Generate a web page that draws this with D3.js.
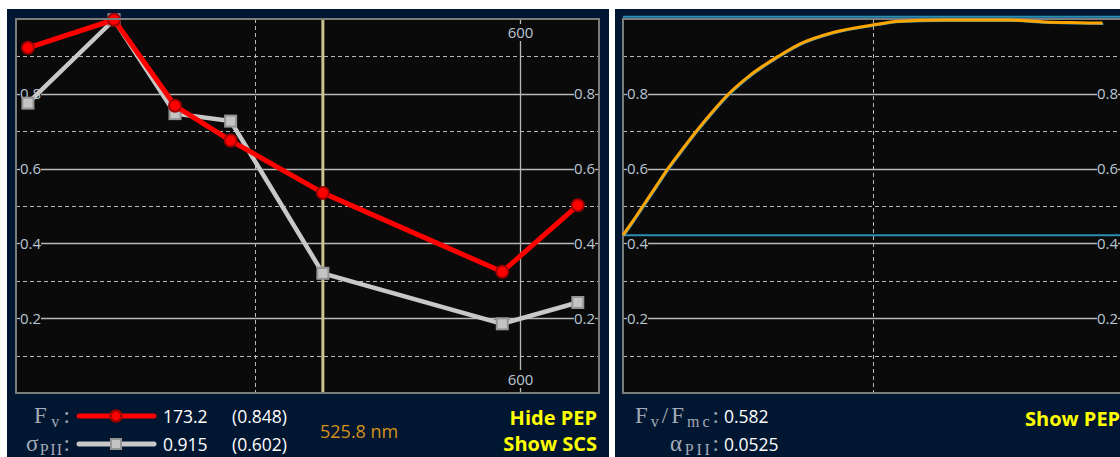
<!DOCTYPE html>
<html>
<head>
<meta charset="utf-8">
<script src="https://cdn.jsdelivr.net/npm/d3@7"></script>
<style>
  html, body { margin: 0; padding: 0; background: #ffffff; }
  svg { display: block; }
</style>
</head>
<body>
<svg id="chart" width="1120" height="457"></svg>
<script>
// Spectral panel: wavelength (nm) against normalised response
const wavelengths = [414.5, 447, 470, 491, 525.8, 593.5, 622];
const fvValues    = [0.923, 0.998, 0.768, 0.675, 0.535, 0.324, 0.502];
const sigmaValues = [0.775, 0.998, 0.747, 0.727, 0.320, 0.185, 0.242];
const cursorWavelength = 525.8;
const yTicks = [0.2, 0.4, 0.6, 0.8];
const yMinorTicks = [0.1, 0.3, 0.5, 0.7, 0.9];
const xTicks = [600];
const xMinorTicks = [500];

// Induction panel: fluorescence rise over the pulse
const timeSteps   = [0, 2, 4, 6.5, 9, 11.8, 14.7, 17.8, 21.2, 25.5, 31.1, 35.4, 42.1, 50, 55.4, 64.5, 77.5, 84.5, 91.5, 96.1];
const riseValues  = [0.422, 0.46, 0.5, 0.55, 0.6, 0.65, 0.7, 0.75, 0.8, 0.85, 0.9, 0.933, 0.964, 0.984, 0.994, 0.997, 0.997, 0.992, 0.99, 0.989];
const levelValues = [0.422, 1.006];
const timeMinorTicks = [50];

// Readouts
const fvReadout = ["173.2", "(0.848)"];
const sigmaReadout = ["0.915", "(0.602)"];
const ratioReadout = "0.582";
const alphaReadout = "0.0525";

const SANS = "'Open Sans', 'Noto Sans', sans-serif";
const SERIF = "'Liberation Serif', 'DejaVu Serif', serif";
const svg = d3.select("#chart").style("font-family", SANS);
const NAVY = "#001631";
const PLOT_BG = "#0a0a0a";
const FRAME = "#7c7c7c";
const GRID = "#b8b8b8";
const LABEL = "#b9c6d4";
const TICK_FS = 15;

function panel(x0, x1) {
  svg.append("rect").attr("x", x0).attr("y", 9).attr("width", x1 - x0).attr("height", 448).attr("fill", NAVY);
}
panel(7, 609);
panel(615, 1130);

// Shared frame + grid helper
function drawFrame(g, x, y, w, h, opts) {
  g.append("rect").attr("x", 0).attr("y", 0).attr("width", w).attr("height", h).attr("fill", PLOT_BG);

  // dashed minor horizontal grid
  g.selectAll(".hminor").data(yMinorTicks).join("line")
    .attr("x1", 0).attr("x2", w)
    .attr("y1", d => Math.round(y(d)) + 0.5).attr("y2", d => Math.round(y(d)) + 0.5)
    .attr("stroke", GRID).attr("stroke-width", 1).attr("stroke-dasharray", "4,3");

  // dashed minor vertical grid
  g.selectAll(".vminor").data(opts.xMinor).join("line")
    .attr("x1", d => Math.round(x(d)) + 0.5).attr("x2", d => Math.round(x(d)) + 0.5)
    .attr("y1", 0).attr("y2", h)
    .attr("stroke", GRID).attr("stroke-width", 1).attr("stroke-dasharray", "4,3");

  // solid major horizontal grid with inset labels on both sides
  const labW = 25;
  g.selectAll(".hmajor").data(yTicks).join("line")
    .attr("x1", labW).attr("x2", w - labW)
    .attr("y1", d => Math.round(y(d)) + 0.5).attr("y2", d => Math.round(y(d)) + 0.5)
    .attr("stroke", GRID).attr("stroke-width", 1.3);
  [[0, 4], [w - 4, w]].forEach(([a, b]) => {
    g.selectAll(null).data(yTicks).join("line")
      .attr("x1", a).attr("x2", b)
      .attr("y1", d => Math.round(y(d)) + 0.5).attr("y2", d => Math.round(y(d)) + 0.5)
      .attr("stroke", GRID).attr("stroke-width", 1.3);
  });
  g.selectAll(".ylabL").data(yTicks).join("text")
    .attr("x", 4).attr("y", d => y(d) + 5.5)
    .attr("font-size", TICK_FS).attr("fill", LABEL)
    .text(d3.format(".1f"));
  g.selectAll(".ylabR").data(yTicks).join("text")
    .attr("x", w - 4).attr("y", d => y(d) + 5.5)
    .attr("text-anchor", "end")
    .attr("font-size", TICK_FS).attr("fill", LABEL)
    .text(d3.format(".1f"));

  // solid major vertical grid with labels top and bottom
  opts.xMajor.forEach(t => {
    const px = Math.round(x(t)) + 0.5;
    g.append("line").attr("x1", px).attr("x2", px).attr("y1", 0).attr("y2", 5).attr("stroke", GRID).attr("stroke-width", 1.3);
    g.append("line").attr("x1", px).attr("x2", px).attr("y1", 22).attr("y2", h - 23).attr("stroke", GRID).attr("stroke-width", 1.3);
    g.append("line").attr("x1", px).attr("x2", px).attr("y1", h - 5).attr("y2", h).attr("stroke", GRID).attr("stroke-width", 1.3);
    g.append("text").attr("x", px).attr("y", 19).attr("text-anchor", "middle")
      .attr("font-size", TICK_FS).attr("fill", LABEL).text(t);
    g.append("text").attr("x", px).attr("y", h - 8).attr("text-anchor", "middle")
      .attr("font-size", TICK_FS).attr("fill", LABEL).text(t);
  });
}

// ---------- Left panel: spectra ----------
const L = { x: 16, y: 19, w: 583, h: 374 };
const xL = d3.scaleLinear().domain([410, 630]).range([0, L.w]);
const yL = d3.scaleLinear().domain([0, 1]).range([L.h, 0]);
const gL = svg.append("g").attr("transform", `translate(${L.x},${L.y})`);
drawFrame(gL, xL, yL, L.w, L.h, { xMinor: xMinorTicks, xMajor: xTicks });

// wavelength cursor
gL.append("line")
  .attr("x1", xL(cursorWavelength)).attr("x2", xL(cursorWavelength))
  .attr("y1", 0).attr("y2", L.h)
  .attr("stroke", "#c9c48e").attr("stroke-width", 3);

const lineL = (vals) => d3.line().x((d, i) => xL(wavelengths[i])).y(d => yL(d))(vals);

// sigma series (grey squares)
gL.append("path").attr("d", lineL(sigmaValues))
  .attr("fill", "none").attr("stroke", "#c8c8c8").attr("stroke-width", 4.5).attr("stroke-linejoin", "round");
gL.selectAll(".sq").data(sigmaValues).join("rect")
  .attr("x", (d, i) => xL(wavelengths[i]) - 5.5).attr("y", d => yL(d) - 5.5)
  .attr("width", 11).attr("height", 11)
  .attr("fill", "#c4c4c4").attr("stroke", "#959595").attr("stroke-width", 2);

// Fv series (red circles)
gL.append("path").attr("d", lineL(fvValues))
  .attr("fill", "none").attr("stroke", "#ff0000").attr("stroke-width", 5).attr("stroke-linejoin", "round");
gL.selectAll(".dot").data(fvValues).join("circle")
  .attr("cx", (d, i) => xL(wavelengths[i])).attr("cy", d => yL(d))
  .attr("r", 6).attr("fill", "#ff0000").attr("stroke", "#a00000").attr("stroke-width", 2);

// frame border
gL.append("rect").attr("x", 0).attr("y", 0).attr("width", L.w).attr("height", L.h)
  .attr("fill", "none").attr("stroke", FRAME).attr("stroke-width", 2);

// ---------- Right panel: induction ----------
const R = { x: 623, y: 19, w: 499, h: 374 };
const xR = d3.scaleLinear().domain([0, 100]).range([0, R.w]);
const yR = d3.scaleLinear().domain([0, 1]).range([R.h, 0]);
const gR = svg.append("g").attr("transform", `translate(${R.x},${R.y})`);
drawFrame(gR, xR, yR, R.w, R.h, { xMinor: timeMinorTicks, xMajor: [] });

gR.append("rect").attr("x", 0).attr("y", 0).attr("width", R.w).attr("height", R.h)
  .attr("fill", "none").attr("stroke", FRAME).attr("stroke-width", 2);

gR.selectAll(".level").data(levelValues).join("line")
  .attr("x1", 0).attr("x2", R.w + 10)
  .attr("y1", d => yR(d)).attr("y2", d => yR(d))
  .attr("stroke", "#2a8fb3").attr("stroke-width", 2);

const riseLine = d3.line().x((d, i) => xR(timeSteps[i])).y(d => yR(d)).curve(d3.curveMonotoneX);
gR.append("path").attr("d", riseLine(riseValues))
  .attr("transform", "translate(0.8,0.8)")
  .attr("fill", "none").attr("stroke", "#2a8fb3").attr("stroke-width", 2);
gR.append("path").attr("d", riseLine(riseValues))
  .attr("fill", "none").attr("stroke", "#ffa500").attr("stroke-width", 3);

// ---------- Readouts ----------
const SERIF_COL = "#a3abb8";

// parts: [text, isSubscript]; the label is stretched to a fixed width
function serifLabel(x, y, width, parts) {
  const t = svg.append("text").attr("x", x).attr("y", y)
    .attr("textLength", width).attr("lengthAdjust", "spacing")
    .style("font-family", SERIF).attr("font-size", 23).attr("fill", SERIF_COL);
  let shifted = false;
  parts.forEach(([s, sub]) => {
    const sp = t.append("tspan").text(s);
    if (sub && !shifted) { sp.attr("dy", 4).attr("font-size", 16); shifted = true; }
    else if (sub) { sp.attr("font-size", 16); }
    else if (!sub && shifted) { sp.attr("dy", -4); shifted = false; }
  });
  return t;
}

function valueText(x, y, s) {
  svg.append("text").attr("x", x).attr("y", y).attr("font-size", 17.5).attr("fill", "#ffffff").text(s);
}

// Fv row
serifLabel(34, 423, 36, [["F", false], ["v", true], [":", false]]);
svg.append("line").attr("x1", 79).attr("x2", 154).attr("y1", 416).attr("y2", 416)
  .attr("stroke", "#ff0000").attr("stroke-width", 5).attr("stroke-linecap", "round");
svg.append("circle").attr("cx", 116).attr("cy", 416).attr("r", 5.5)
  .attr("fill", "#ff0000").attr("stroke", "#a00000").attr("stroke-width", 2.5);
valueText(163, 423, fvReadout[0]);
valueText(232, 423, fvReadout[1]);

// sigma row
serifLabel(26, 451, 44, [["σ", false], ["PII", true], [":", false]]);
svg.append("line").attr("x1", 79).attr("x2", 154).attr("y1", 444).attr("y2", 444)
  .attr("stroke", "#c8c8c8").attr("stroke-width", 5).attr("stroke-linecap", "round");
svg.append("rect").attr("x", 111).attr("y", 439).attr("width", 10).attr("height", 10)
  .attr("fill", "#c4c4c4").attr("stroke", "#959595").attr("stroke-width", 2);
valueText(163, 451, sigmaReadout[0]);
valueText(232, 451, sigmaReadout[1]);

// cursor readout
svg.append("text").attr("x", 320).attr("y", 438).attr("font-size", 18).attr("fill", "#d6921c")
  .text(`${cursorWavelength} nm`);

// toggles
svg.append("text").attr("x", 597).attr("y", 425).attr("text-anchor", "end")
  .attr("font-size", 20).attr("font-weight", "bold").attr("fill", "#ffff00").text("Hide PEP");
svg.append("text").attr("x", 597).attr("y", 451).attr("text-anchor", "end")
  .attr("font-size", 20).attr("font-weight", "bold").attr("fill", "#ffff00").text("Show SCS");

// right readouts
serifLabel(635, 423, 84, [["F", false], ["v", true], ["/F", false], ["mc", true], [":", false]]);
valueText(724, 423, ratioReadout);
serifLabel(670, 451, 49, [["α", false], ["PII", true], [":", false]]);
valueText(724, 451, alphaReadout);
svg.append("text").attr("x", 1025).attr("y", 426)
  .attr("font-size", 20).attr("font-weight", "bold").attr("fill", "#ffff00").text("Show PEP");
</script>
</body>
</html>
